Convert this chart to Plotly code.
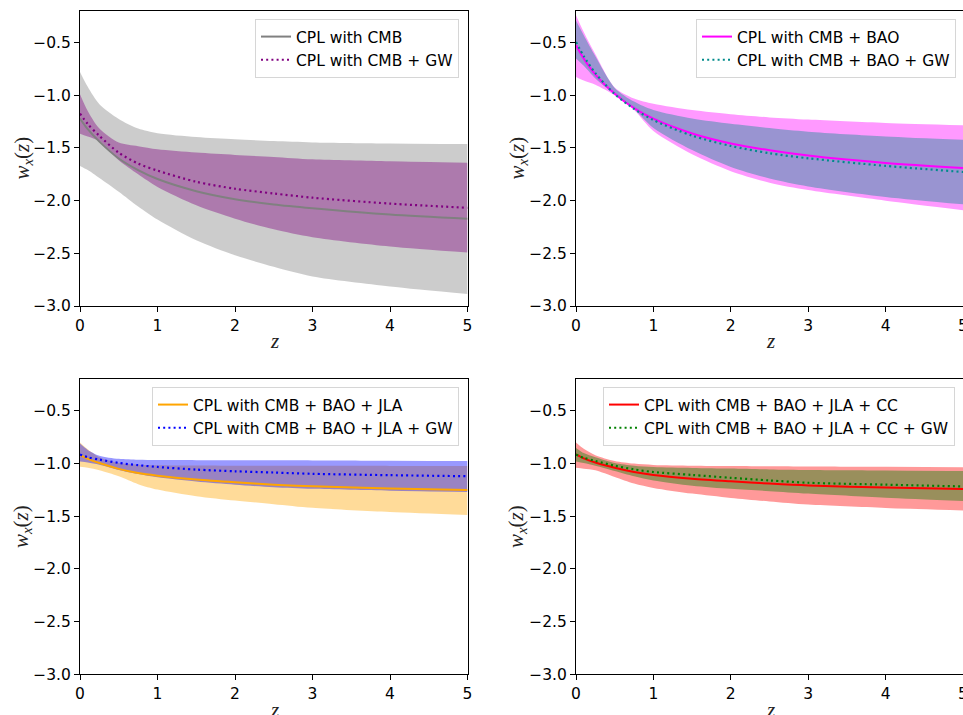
import plotly.graph_objects as go

# ---------------- data ----------------
Z = [0, 0.1, 0.25, 0.5, 0.75, 1, 1.5, 2, 2.5, 3, 4, 5]

# Panel 1: CMB vs CMB + GW
cmb_up = [-0.778, -0.92, -1.085, -1.225, -1.316, -1.36, -1.396, -1.418, -1.435, -1.447, -1.457, -1.463]
cmb_lo = [-1.671, -1.71, -1.785, -1.915, -2.055, -2.18, -2.377, -2.519, -2.628, -2.72, -2.814, -2.885]
cmb_mid = [-1.22, -1.322, -1.44, -1.60, -1.71, -1.795, -1.91, -1.986, -2.036, -2.072, -2.132, -2.173]
cmbgw_up = [-0.99, -1.15, -1.316, -1.449, -1.484, -1.513, -1.544, -1.566, -1.585, -1.608, -1.627, -1.64]
cmbgw_lo = [-1.364, -1.39, -1.434, -1.617, -1.75, -1.87, -2.044, -2.171, -2.272, -2.347, -2.435, -2.492]
cmbgw_mid = [-1.174, -1.272, -1.385, -1.545, -1.648, -1.715, -1.821, -1.887, -1.932, -1.972, -2.028, -2.068]

# Panel 2: CMB + BAO vs CMB + BAO + GW
bao_up = [-0.24, -0.40, -0.61, -0.925, -1.03, -1.08, -1.14, -1.18, -1.21, -1.23, -1.262, -1.284]
bao_lo = [-0.826, -0.86, -0.90, -1.0, -1.14, -1.34, -1.56, -1.72, -1.83, -1.90, -2.0, -2.09]
bao_mid = [-0.525, -0.652, -0.803, -0.985, -1.122, -1.222, -1.362, -1.457, -1.522, -1.572, -1.642, -1.69]
baogw_up = [-0.29, -0.43, -0.63, -0.93, -1.06, -1.14, -1.22, -1.27, -1.31, -1.345, -1.39, -1.422]
baogw_lo = [-0.65, -0.72, -0.84, -0.99, -1.13, -1.31, -1.52, -1.68, -1.79, -1.865, -1.965, -2.035]
baogw_mid = [-0.494, -0.629, -0.79, -0.988, -1.129, -1.235, -1.383, -1.481, -1.55, -1.598, -1.67, -1.728]

# Panel 3: CMB + BAO + JLA vs ... + GW
jla_up = [-0.80, -0.865, -0.94, -0.995, -1.01, -1.015, -1.018, -1.02, -1.02, -1.021, -1.022, -1.023]
jla_lo = [-1.03, -1.04, -1.063, -1.12, -1.195, -1.247, -1.31, -1.351, -1.385, -1.42, -1.46, -1.487]
jla_mid = [-0.92, -0.955, -0.995, -1.05, -1.09, -1.115, -1.152, -1.178, -1.20, -1.215, -1.236, -1.25]
jlagw_up = [-0.81, -0.87, -0.925, -0.955, -0.964, -0.967, -0.968, -0.968, -0.969, -0.97, -0.972, -0.975]
jlagw_lo = [-0.98, -0.99, -1.01, -1.06, -1.10, -1.13, -1.17, -1.20, -1.225, -1.24, -1.258, -1.27]
jlagw_mid = [-0.915, -0.94, -0.962, -0.994, -1.015, -1.032, -1.057, -1.073, -1.085, -1.097, -1.11, -1.12]

# Panel 4: CMB + BAO + JLA + CC vs ... + GW
cc_up = [-0.80, -0.86, -0.92, -0.975, -1.0, -1.013, -1.02, -1.024, -1.026, -1.028, -1.031, -1.034]
cc_lo = [-1.04, -1.048, -1.063, -1.127, -1.19, -1.231, -1.285, -1.326, -1.36, -1.389, -1.421, -1.445]
cc_mid = [-0.913, -0.95, -0.99, -1.04, -1.08, -1.108, -1.143, -1.168, -1.19, -1.208, -1.228, -1.241]
ccgw_up = [-0.851, -0.90, -0.94, -0.994, -1.02, -1.032, -1.041, -1.047, -1.055, -1.06, -1.065, -1.07]
ccgw_lo = [-0.98, -0.995, -1.02, -1.07, -1.12, -1.16, -1.21, -1.24, -1.262, -1.285, -1.325, -1.355]
ccgw_mid = [-0.915, -0.945, -0.975, -1.02, -1.055, -1.08, -1.108, -1.135, -1.16, -1.182, -1.2, -1.217]

x_ticks = [0, 1, 2, 3, 4, 5]
x_ticktext = ["0", "1", "2", "3", "4", "5"]
y_ticks = [-3.0, -2.5, -2.0, -1.5, -1.0, -0.5]
y_ticktext = ["\u22123.0", "\u22122.5", "\u22122.0", "\u22121.5", "\u22121.0", "\u22120.5"]

panels = [
    dict(ax="", leg="legend",
         bands=[(cmb_up, cmb_lo, "rgba(128,128,128,0.4)"), (cmbgw_up, cmbgw_lo, "rgba(128,0,128,0.4)")],
         lines=[(cmb_mid, "#808080", "solid", "CPL with CMB"),
                (cmbgw_mid, "#800080", "dot", "CPL with CMB + GW")]),
    dict(ax="2", leg="legend2",
         bands=[(bao_up, bao_lo, "rgba(255,0,255,0.4)"), (baogw_up, baogw_lo, "rgba(0,139,139,0.4)")],
         lines=[(bao_mid, "#FF00FF", "solid", "CPL with CMB + BAO"),
                (baogw_mid, "#008B8B", "dot", "CPL with CMB + BAO + GW")]),
    dict(ax="3", leg="legend3",
         bands=[(jla_up, jla_lo, "rgba(255,165,0,0.4)"), (jlagw_up, jlagw_lo, "rgba(0,0,255,0.4)")],
         lines=[(jla_mid, "#FFA500", "solid", "CPL with CMB + BAO + JLA"),
                (jlagw_mid, "#0000FF", "dot", "CPL with CMB + BAO + JLA + GW")]),
    dict(ax="4", leg="legend4",
         bands=[(cc_up, cc_lo, "rgba(255,0,0,0.4)"), (ccgw_up, ccgw_lo, "rgba(0,128,0,0.4)")],
         lines=[(cc_mid, "#FF0000", "solid", "CPL with CMB + BAO + JLA + CC"),
                (ccgw_mid, "#008000", "dot", "CPL with CMB + BAO + JLA + CC + GW")]),
]

fig = go.Figure()
for p in panels:
    xa, ya = "x" + p["ax"], "y" + p["ax"]
    for up, lo, col in p["bands"]:
        fig.add_trace(go.Scatter(x=Z, y=up, xaxis=xa, yaxis=ya, mode="lines",
                                 line=dict(width=0, shape="spline", smoothing=0.8, color=col),
                                 showlegend=False, hoverinfo="skip"))
        fig.add_trace(go.Scatter(x=Z, y=lo, xaxis=xa, yaxis=ya, mode="lines",
                                 line=dict(width=0, shape="spline", smoothing=0.8, color=col),
                                 fill="tonexty", fillcolor=col,
                                 showlegend=False, hoverinfo="skip"))
    for vals, col, dash, name in p["lines"]:
        fig.add_trace(go.Scatter(x=Z, y=vals, xaxis=xa, yaxis=ya, mode="lines", name=name,
                                 legend=p["leg"],
                                 line=dict(width=2 if dash == "solid" else 2.2, color=col,
                                           shape="spline", smoothing=0.8,
                                           dash="solid" if dash == "solid" else "2px,3.2px")))

xdom_l = [80 / 963, 467.5 / 963]
xdom_r = [576 / 963, 1.0]
ydom_t = [1 - 306 / 715, 1 - 11 / 715]
ydom_b = [1 - 674.3 / 715, 1 - 379.3 / 715]

axis_common = dict(showline=True, mirror=True, linecolor="black", linewidth=1.1,
                   ticks="outside", ticklen=5, tickwidth=1.1, tickcolor="black",
                   showgrid=False, zeroline=False, automargin=False,
                   ticklabeloverflow="allow",
                   tickfont=dict(family="DejaVu Sans", size=15.5, color="black"))

layout = dict(width=963, height=715, margin=dict(l=0, r=0, t=0, b=0, autoexpand=False),
              paper_bgcolor="white", plot_bgcolor="white")
for ax, xd, yd in [("", xdom_l, ydom_t), ("2", xdom_r, ydom_t), ("3", xdom_l, ydom_b), ("4", xdom_r, ydom_b)]:
    layout["xaxis" + ax] = dict(domain=xd, range=[0, 5], anchor="y" + ax,
                                tickvals=x_ticks, ticktext=x_ticktext, **axis_common)
    layout["yaxis" + ax] = dict(domain=yd, range=[-3.0, -0.2], anchor="x" + ax,
                                tickvals=y_ticks, ticktext=y_ticktext, **axis_common)

leg_common = dict(xanchor="right", yanchor="top", bgcolor="rgba(255,255,255,0.8)",
                  bordercolor="#d6d6d6", borderwidth=1, itemwidth=30, traceorder="normal",
                  font=dict(family="DejaVu Sans", size=15.5, color="black"))
layout["legend"] = dict(x=459 / 963, y=1 - 19 / 715, **leg_common)
layout["legend2"] = dict(x=956 / 963, y=1 - 19 / 715, **leg_common)
layout["legend3"] = dict(x=459 / 963, y=1 - 387 / 715, **leg_common)
layout["legend4"] = dict(x=955 / 963, y=1 - 387 / 715, **leg_common)

ylab = "<i>w</i><sub><i>x</i></sub>(<i>z</i>)"
lab_font = dict(family="Liberation Serif", size=21, color="#222222")
ann = []
for xc, yc in [(22, 158.5), (517, 158.5), (22, 527), (517, 527)]:
    ann.append(dict(text=ylab, x=xc / 963, y=1 - yc / 715, xref="paper", yref="paper",
                    showarrow=False, textangle=-90, font=lab_font, xanchor="center", yanchor="middle"))
for xc, yc in [(274, 341), (770, 341), (274, 710), (770, 710)]:
    ann.append(dict(text="<i>z</i>", x=xc / 963, y=1 - yc / 715, xref="paper", yref="paper",
                    showarrow=False, font=lab_font, xanchor="center", yanchor="middle"))
layout["annotations"] = ann

fig.update_layout(**layout)
fig.write_html("out.html",
               config={"displayModeBar": False},
               post_script="document.body.style.margin='0px';"
                           "document.body.style.overflow='hidden';"
                           "document.documentElement.style.overflow='hidden';")
